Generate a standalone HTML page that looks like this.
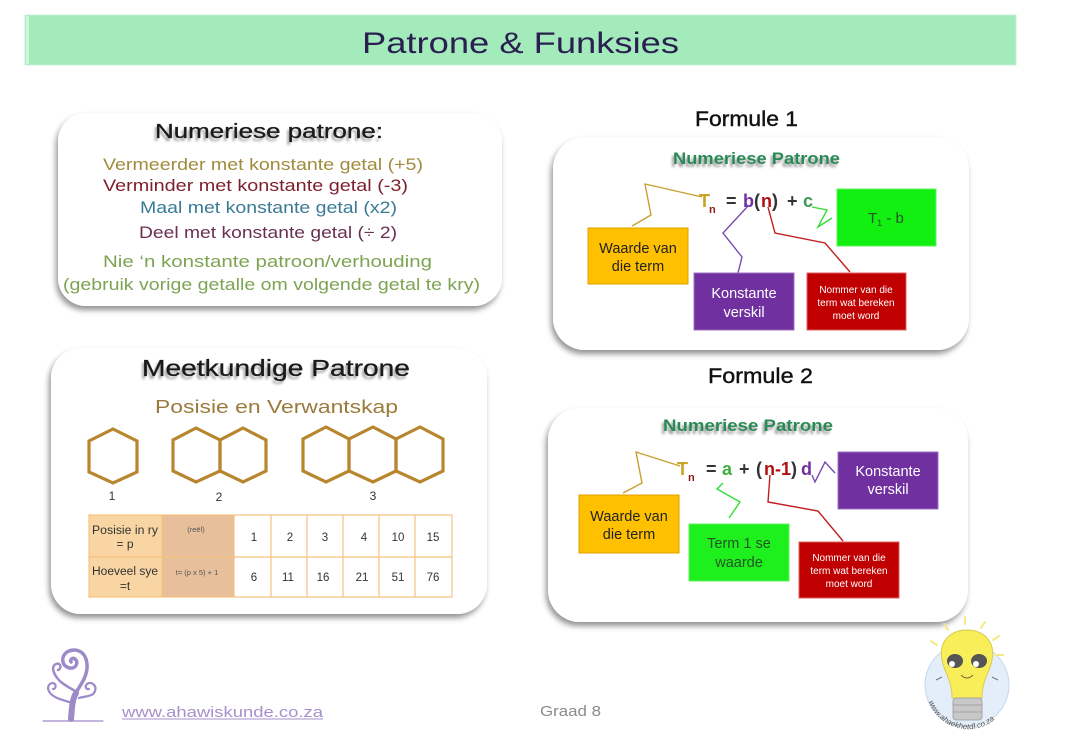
<!DOCTYPE html>
<html><head><meta charset="utf-8"><style>
html,body{margin:0;padding:0;background:#fff;}
svg{display:block;}
text{font-family:"Liberation Sans",sans-serif;}
</style></head><body>
<svg width="1066" height="751" viewBox="0 0 1066 751" xmlns="http://www.w3.org/2000/svg">
<defs>
<filter id="sh" x="-10%" y="-10%" width="120%" height="130%">
<feDropShadow dx="-2" dy="4" stdDeviation="3" flood-color="#000" flood-opacity="0.42"/>
</filter>
<filter id="bl" x="-10%" y="-50%" width="120%" height="200%"><feGaussianBlur stdDeviation="1.3"/></filter>
<path id="arc" d="M928,700 A42,42 0 0,0 1008,700"/>
</defs>
<rect width="1066" height="751" fill="#fff"/>

<!-- header -->
<rect x="25" y="15" width="991" height="50" fill="#a3ebbb" stroke="#c3f2d4" stroke-width="1"/>
<rect x="26" y="16" width="3" height="48" fill="#cdf6dc"/>
<text x="362" y="53" font-size="30" fill="#2a1f50" textLength="317" lengthAdjust="spacingAndGlyphs">Patrone &amp;  Funksies</text>

<!-- Box 1 -->
<rect x="58" y="113" width="444" height="193" rx="28" fill="#fff" filter="url(#sh)"/>
<text x="153" y="141" font-size="20" fill="#999" filter="url(#bl)" textLength="228" lengthAdjust="spacingAndGlyphs">Numeriese patrone:</text>
<text x="155" y="138" font-size="20" fill="#1a1a1a" stroke="#1a1a1a" stroke-width="0.3" textLength="228" lengthAdjust="spacingAndGlyphs">Numeriese patrone:</text>
<text x="103" y="170" font-size="17" fill="#a08b3c" textLength="320" lengthAdjust="spacingAndGlyphs">Vermeerder met konstante getal (+5)</text>
<text x="103" y="191" font-size="17" fill="#7b1f2b" textLength="305" lengthAdjust="spacingAndGlyphs">Verminder met konstante getal (-3)</text>
<text x="140" y="213" font-size="17" fill="#3a7a95" textLength="257" lengthAdjust="spacingAndGlyphs">Maal met konstante getal (x2)</text>
<text x="139" y="238" font-size="17" fill="#6b3050" textLength="258" lengthAdjust="spacingAndGlyphs">Deel met konstante getal (÷ 2)</text>
<text x="103" y="267" font-size="17" fill="#7da353" textLength="329" lengthAdjust="spacingAndGlyphs">Nie ‘n konstante patroon/verhouding</text>
<text x="63" y="290" font-size="17" fill="#7da353" textLength="417" lengthAdjust="spacingAndGlyphs">(gebruik vorige getalle om volgende getal te kry)</text>

<!-- Box 2 -->
<rect x="51" y="348" width="436" height="266" rx="30" fill="#fff" filter="url(#sh)"/>
<text x="140" y="379" font-size="23" fill="#999" filter="url(#bl)" textLength="268" lengthAdjust="spacingAndGlyphs">Meetkundige Patrone</text>
<text x="142" y="376" font-size="23" fill="#1a1a1a" stroke="#1a1a1a" stroke-width="0.3" textLength="268" lengthAdjust="spacingAndGlyphs">Meetkundige Patrone</text>
<text x="155" y="413" font-size="18" fill="#9a7b3c" textLength="243" lengthAdjust="spacingAndGlyphs">Posisie en Verwantskap</text>

<g fill="none" stroke="#b8862e" stroke-width="3.2" stroke-linejoin="miter">
<polygon points="113,429 137,441 137,472 113,483 89,472 89,441"/>
<polygon points="196,428 220,440 220,471 196,482 173,471 173,440"/>
<polygon points="243,428 266,440 266,471 243,482 220,471 220,440"/>
<polygon points="326,427 349,439 349,471 326,482 303,471 303,439"/>
<polygon points="373,427 396,439 396,471 373,482 349,471 349,439"/>
<polygon points="420,427 443,439 443,471 420,482 396,471 396,439"/>
</g>
<g font-size="12" fill="#333" text-anchor="middle">
<text x="112" y="500">1</text>
<text x="219" y="501">2</text>
<text x="373" y="500">3</text>
</g>

<!-- table -->
<rect x="89" y="515" width="73" height="82" fill="#f9d5a4"/>
<rect x="162" y="515" width="72" height="82" fill="#e7bf9a"/>
<g stroke="#f6c27e" stroke-width="1.2" fill="none">
<rect x="89" y="515" width="363" height="82"/>
<line x1="89" y1="557" x2="452" y2="557"/>
<line x1="162" y1="515" x2="162" y2="597"/>
<line x1="234" y1="515" x2="234" y2="597"/>
<line x1="271" y1="515" x2="271" y2="597"/>
<line x1="307" y1="515" x2="307" y2="597"/>
<line x1="343" y1="515" x2="343" y2="597"/>
<line x1="379" y1="515" x2="379" y2="597"/>
<line x1="415" y1="515" x2="415" y2="597"/>
</g>
<g fill="#333" text-anchor="middle">
<text x="125" y="534" font-size="11.5" textLength="66" lengthAdjust="spacingAndGlyphs">Posisie in ry</text>
<text x="125" y="548" font-size="12">= p</text>
<text x="125" y="575" font-size="11.5" textLength="66" lengthAdjust="spacingAndGlyphs">Hoeveel sye</text>
<text x="125" y="590" font-size="12">=t</text>
<text x="196" y="532" font-size="7.5" fill="#555">(reël)</text>
<text x="197" y="575" font-size="7.5" fill="#555">t= (p x 5) + 1</text>
<g font-size="11.5">
<text x="254" y="541">1</text><text x="290" y="541">2</text><text x="325" y="541">3</text><text x="364" y="541">4</text><text x="398" y="541">10</text><text x="433" y="541">15</text>
<text x="254" y="581">6</text><text x="288" y="581">11</text><text x="323" y="581">16</text><text x="362" y="581">21</text><text x="398" y="581">51</text><text x="433" y="581">76</text>
</g>
</g>

<!-- Formule 1 -->
<text x="695" y="126" font-size="21" fill="#111" stroke="#111" stroke-width="0.4" textLength="103" lengthAdjust="spacingAndGlyphs">Formule 1</text>
<rect x="553" y="137" width="416" height="213" rx="32" fill="#fff" filter="url(#sh)"/>
<text x="671" y="167" font-size="17" font-weight="bold" fill="#999" filter="url(#bl)" textLength="167" lengthAdjust="spacingAndGlyphs">Numeriese Patrone</text>
<text x="673" y="164" font-size="17" font-weight="bold" fill="#2a8a55" textLength="167" lengthAdjust="spacingAndGlyphs">Numeriese Patrone</text>

<g fill="none" stroke-width="1.4">
<polyline points="632,226 651,215 645,184 702,197" stroke="#c8a030"/>
<polyline points="748,206 723,233 742,257 738,273" stroke="#7a4ab0"/>
<polyline points="768,207 775,233 825,243 850,272" stroke="#c02020"/>
<polyline points="812,207 827,210 818,227 832,218" stroke="#33dd33"/>
</g>
<g font-weight="bold" font-size="18">
<text x="699" y="207" fill="#c9a227">T</text>
<text x="709" y="213" font-size="11" fill="#8b1a1a">n</text>
<text x="726" y="207" fill="#333">=</text>
<text x="743" y="207" fill="#7030a0">b</text>
<text x="754" y="207" fill="#333">(</text>
<text x="761" y="207" fill="#b01010">n</text>
<text x="772" y="207" fill="#333">)</text>
<text x="787" y="207" fill="#333">+</text>
<text x="803" y="207" fill="#3a9a55">c</text>
</g>

<rect x="588" y="228" width="100" height="56" fill="#ffc000" stroke="#e0a000" stroke-width="1"/>
<g font-size="14.5" fill="#222" text-anchor="middle">
<text x="638" y="253">Waarde van</text>
<text x="638" y="271">die term</text>
</g>
<rect x="694" y="273" width="100" height="57" fill="#7030a0" stroke="#9a70c0" stroke-width="1"/>
<g font-size="14.5" fill="#fff" text-anchor="middle">
<text x="744" y="298">Konstante</text>
<text x="744" y="317">verskil</text>
</g>
<rect x="807" y="273" width="99" height="57" fill="#c00000" stroke="#e06060" stroke-width="1"/>
<g font-size="10" fill="#fff" text-anchor="middle">
<text x="856" y="293">Nommer van die</text>
<text x="856" y="306">term wat bereken</text>
<text x="856" y="319">moet word</text>
</g>
<rect x="837" y="189" width="99" height="57" fill="#11f011" stroke="#60f060" stroke-width="1"/>
<text x="868" y="223" font-size="15" fill="#225522">T<tspan font-size="9" dy="3">1</tspan><tspan dy="-3"> - b</tspan></text>

<!-- Formule 2 -->
<text x="708" y="383" font-size="21" fill="#111" stroke="#111" stroke-width="0.4" textLength="105" lengthAdjust="spacingAndGlyphs">Formule 2</text>
<rect x="548" y="408" width="420" height="214" rx="32" fill="#fff" filter="url(#sh)"/>
<text x="661" y="434" font-size="17" font-weight="bold" fill="#999" filter="url(#bl)" textLength="170" lengthAdjust="spacingAndGlyphs">Numeriese Patrone</text>
<text x="663" y="431" font-size="17" font-weight="bold" fill="#2a8a55" textLength="170" lengthAdjust="spacingAndGlyphs">Numeriese Patrone</text>

<g fill="none" stroke-width="1.4">
<polyline points="623,493 642,483 636,452 680,466" stroke="#c8a030"/>
<polyline points="723,483 717,489 740,502 729,518" stroke="#33dd33"/>
<polyline points="770,475 768,502 818,511 843,541" stroke="#c02020"/>
<polyline points="812,475 815,482 825,462 835,473" stroke="#7a4ab0"/>
</g>
<g font-weight="bold" font-size="18">
<text x="677" y="475" fill="#c9a227">T</text>
<text x="688" y="481" font-size="11" fill="#8b1a1a">n</text>
<text x="706" y="475" fill="#333">=</text>
<text x="722" y="475" fill="#3cb043">a</text>
<text x="739" y="475" fill="#333">+</text>
<text x="756" y="475" fill="#333">(</text>
<text x="764" y="475" fill="#b01010">n-1</text>
<text x="791" y="475" fill="#333">)</text>
<text x="801" y="475" fill="#7030a0">d</text>
</g>

<rect x="579" y="495" width="100" height="58" fill="#ffc000" stroke="#e0a000" stroke-width="1"/>
<g font-size="14.5" fill="#222" text-anchor="middle">
<text x="629" y="521">Waarde van</text>
<text x="629" y="539">die term</text>
</g>
<rect x="689" y="524" width="100" height="57" fill="#1ef01e" stroke="#60f060" stroke-width="1"/>
<g font-size="14.5" fill="#225522" text-anchor="middle">
<text x="739" y="548">Term 1 se</text>
<text x="739" y="567">waarde</text>
</g>
<rect x="799" y="542" width="100" height="56" fill="#c00000" stroke="#e06060" stroke-width="1"/>
<g font-size="10" fill="#fff" text-anchor="middle">
<text x="849" y="561">Nommer van die</text>
<text x="849" y="574">term wat bereken</text>
<text x="849" y="587">moet word</text>
</g>
<rect x="838" y="452" width="100" height="57" fill="#7030a0" stroke="#9a70c0" stroke-width="1"/>
<g font-size="14.5" fill="#fff" text-anchor="middle">
<text x="888" y="476">Konstante</text>
<text x="888" y="494">verskil</text>
</g>

<!-- footer tree logo -->
<g fill="none" stroke="#9d8bc9" stroke-linecap="round">
<line x1="43" y1="721" x2="103" y2="721" stroke-width="1.2"/>
<path d="M70,719 C70,705 74,695 80,686 C86,677 89,668 86,659 C83,650 74,648 67,652 C60,657 62,667 70,668 C76,669 79,662 75,659 C72,657 70,660 71,662" stroke-width="3.5"/>
<path d="M71,719 C72,708 72,700 76,693" stroke-width="6"/>
<path d="M77,692 C70,688 62,684 58,679 C53,673 51,666 56,664 C61,662 62,669 58,670" stroke-width="2.5"/>
<path d="M73,703 C66,701 56,699 51,694 C46,689 48,683 53,683 C57,684 56,689 53,689" stroke-width="2.2"/>
<path d="M79,698 C85,696 93,697 95,691 C97,685 91,681 87,684 C84,687 87,690 89,689" stroke-width="2.2"/>
<circle cx="71" cy="660" r="1.2" fill="#9d8bc9" stroke="none"/>
<circle cx="75" cy="660" r="1.2" fill="#9d8bc9" stroke="none"/>
</g>
<text x="122" y="717" font-size="15" fill="#a590cc" textLength="201" lengthAdjust="spacingAndGlyphs">www.ahawiskunde.co.za</text>
<line x1="122" y1="719" x2="323" y2="719" stroke="#a590cc" stroke-width="1"/>
<text x="540" y="716" font-size="15" fill="#8a8a8a" textLength="61" lengthAdjust="spacingAndGlyphs">Graad 8</text>

<!-- lightbulb logo -->
<circle cx="967" cy="685" r="42" fill="#e4eefa" stroke="#c8d8ee" stroke-width="1"/>
<g stroke="#f3ea80" stroke-width="2" stroke-linecap="round">
<line x1="937" y1="645" x2="931" y2="641"/>
<line x1="948" y1="630" x2="944" y2="624"/>
<line x1="965" y1="624" x2="965" y2="617"/>
<line x1="981" y1="628" x2="985" y2="622"/>
<line x1="993" y1="640" x2="999" y2="636"/>
<line x1="996" y1="655" x2="1003" y2="655"/>
</g>
<path d="M942,660 C938,640 952,630 967,630 C982,630 996,640 992,660 C990,672 982,680 982,698 L952,698 C952,680 944,672 942,660 Z" fill="#f8ee5a" stroke="#d8cc50" stroke-width="1"/>
<rect x="953" y="698" width="29" height="22" rx="3" fill="#c8c8c8" stroke="#999" stroke-width="0.8"/>
<g stroke="#999" stroke-width="0.8"><line x1="953" y1="705" x2="982" y2="705"/><line x1="953" y1="712" x2="982" y2="712"/></g>
<ellipse cx="955" cy="661" rx="8" ry="7" fill="#555"/>
<ellipse cx="979" cy="661" rx="8" ry="7" fill="#555"/>
<circle cx="952" cy="664" r="3" fill="#fff"/>
<circle cx="976" cy="664" r="3" fill="#fff"/>
<path d="M961,675 Q967,681 973,675" fill="none" stroke="#7a6a2a" stroke-width="1"/>
<g stroke="#777" stroke-width="1" fill="none">
<line x1="942" y1="677" x2="936" y2="680"/><line x1="992" y1="677" x2="998" y2="680"/>
</g>
<text font-size="8" fill="#555" font-style="italic"><textPath href="#arc" startOffset="2">www.ahaekhetdl.co.za</textPath></text>
</svg>
</body></html>
